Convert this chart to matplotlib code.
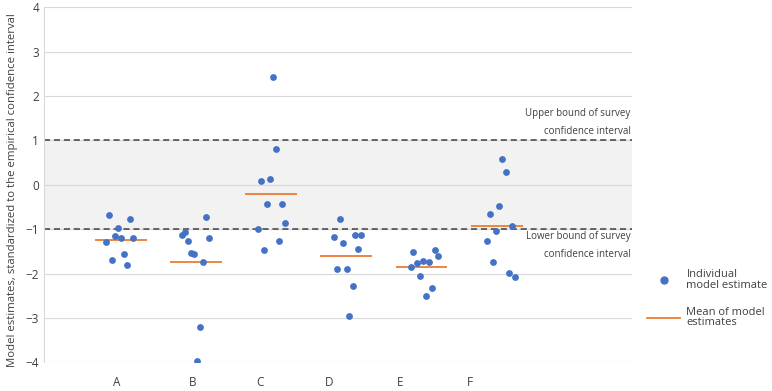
#!/usr/bin/env python3
"""Model estimates vs. survey confidence interval, per model group."""

import matplotlib
matplotlib.use("Agg")
import matplotlib.pyplot as plt
from matplotlib.lines import Line2D
import numpy as np

plt.rcParams["font.family"] = ["Open Sans", "DejaVu Sans"]

# Groups and read-off values (standardized estimates)
categories = ["A", "B", "C", "D", "E", "F"]
label_pos = [0.94, 1.95, 2.85, 3.77, 4.71, 5.65]

est_A = [-0.67, -0.77, -0.98, -1.16, -1.21, -1.21, -1.30, -1.57, -1.69, -1.81]
est_B = [-0.72, -1.06, -1.13, -1.27, -1.19, -1.53, -1.57, -1.75, -3.20, -3.97]
est_C = [2.44, 0.80, 0.09, 0.14, -0.43, -0.43, -0.87, -0.99, -1.26, -1.46]
est_D = [-0.78, -1.18, -1.14, -1.14, -1.32, -1.45, -1.90, -1.90, -2.27, -2.95]
est_E = [-1.52, -1.48, -1.61, -1.76, -1.72, -1.74, -1.86, -2.05, -2.33, -2.51]
est_F = [0.58, 0.28, -0.48, -0.66, -0.93, -1.05, -1.27, -1.75, -1.99, -2.07]

# horizontal jitter of each dot, relative to its group centre
jit_A = [-0.16, 0.12, -0.04, -0.08, 0.00, 0.16, -0.20, 0.04, -0.12, 0.08]
jit_B = [0.13, -0.15, -0.19, -0.11, 0.18, -0.07, -0.03, 0.09, 0.05, 0.01]
jit_C = [0.03, 0.07, -0.13, -0.01, -0.05, 0.15, 0.19, -0.17, 0.11, -0.09]
jit_D = [-0.08, -0.16, 0.12, 0.20, -0.04, 0.16, -0.12, 0.01, 0.09, 0.03]
jit_E = [-0.11, 0.18, 0.22, -0.06, 0.02, 0.10, -0.14, -0.02, 0.14, 0.06]
jit_F = [0.07, 0.12, 0.03, -0.09, 0.20, -0.01, -0.13, -0.05, 0.16, 0.24]

ci_lower, ci_upper = -1, 1

estimates = [est_A, est_B, est_C, est_D, est_E, est_F]
jitters = [jit_A, jit_B, jit_C, jit_D, jit_E, jit_F]

DOT = "#4472C4"
MEAN = "#ED7D31"
GRID = "#D9D9D9"
TEXT = "#404040"

fig = plt.figure(figsize=(7.72, 3.91), dpi=100)
ax = fig.add_axes([0.057, 0.0734, 0.7617, 0.908])

# confidence band + bounds
ax.axhspan(ci_lower, ci_upper, color="#F2F2F2", zorder=0)
for yv in range(-4, 5):
    ax.axhline(yv, color=GRID, lw=0.8, zorder=0.5)
for yv in (ci_lower, ci_upper):
    ax.axhline(yv, color="#404040", lw=1.1, ls=(0, (4, 2.5)), zorder=1)

for i, (vals, jit) in enumerate(zip(estimates, jitters), start=1):
    xs = i + np.array(jit)
    ax.scatter(xs, vals, s=24, color=DOT, zorder=3, linewidths=0)
    m = np.mean(vals)
    ax.hlines(m, i - 0.345, i + 0.345, color=MEAN, lw=1.3, zorder=2)

ax.set_xlim(-0.02, 7.8)
ax.set_ylim(-4, 4)
ax.set_yticks(range(-4, 5))
ax.set_xticks(label_pos)
ax.set_xticklabels(categories)
ax.tick_params(length=0, labelsize=8.5, labelcolor=TEXT)
ax.tick_params(axis="x", pad=10)
for side in ("top", "right", "bottom"):
    ax.spines[side].set_visible(False)
ax.spines["left"].set_color(GRID)
ax.spines["left"].set_linewidth(0.8)

ax.set_ylabel("Model estimates, standardized to the empirical confidence interval",
              fontsize=8.2, color=TEXT)
ax.yaxis.set_label_coords(-0.045, 0.485)

# bound annotations
ax.text(7.78, 1.6, "Upper bound of survey", ha="right", va="center", fontsize=7, color=TEXT)
ax.text(7.78, 1.2, "confidence interval", ha="right", va="center", fontsize=7, color=TEXT)
ax.text(7.78, -1.17, "Lower bound of survey", ha="right", va="center", fontsize=7, color=TEXT)
ax.text(7.78, -1.57, "confidence interval", ha="right", va="center", fontsize=7, color=TEXT)

# legend
handles = [
    Line2D([], [], marker="o", ls="none", color=DOT, markersize=5),
    Line2D([], [], color=MEAN, lw=1.3),
]
leg = fig.legend(handles, ["Individual\nmodel estimate", "Mean of model\nestimates"],
                 loc="upper left", bbox_to_anchor=(0.838, 0.312), frameon=False,
                 fontsize=8, labelcolor=TEXT, handlelength=3.0,
                 labelspacing=1.45, handletextpad=0.55, borderpad=0, borderaxespad=0)
for t in leg.get_texts():
    t.set_linespacing(0.95)

fig.savefig("out.png", dpi=100)
